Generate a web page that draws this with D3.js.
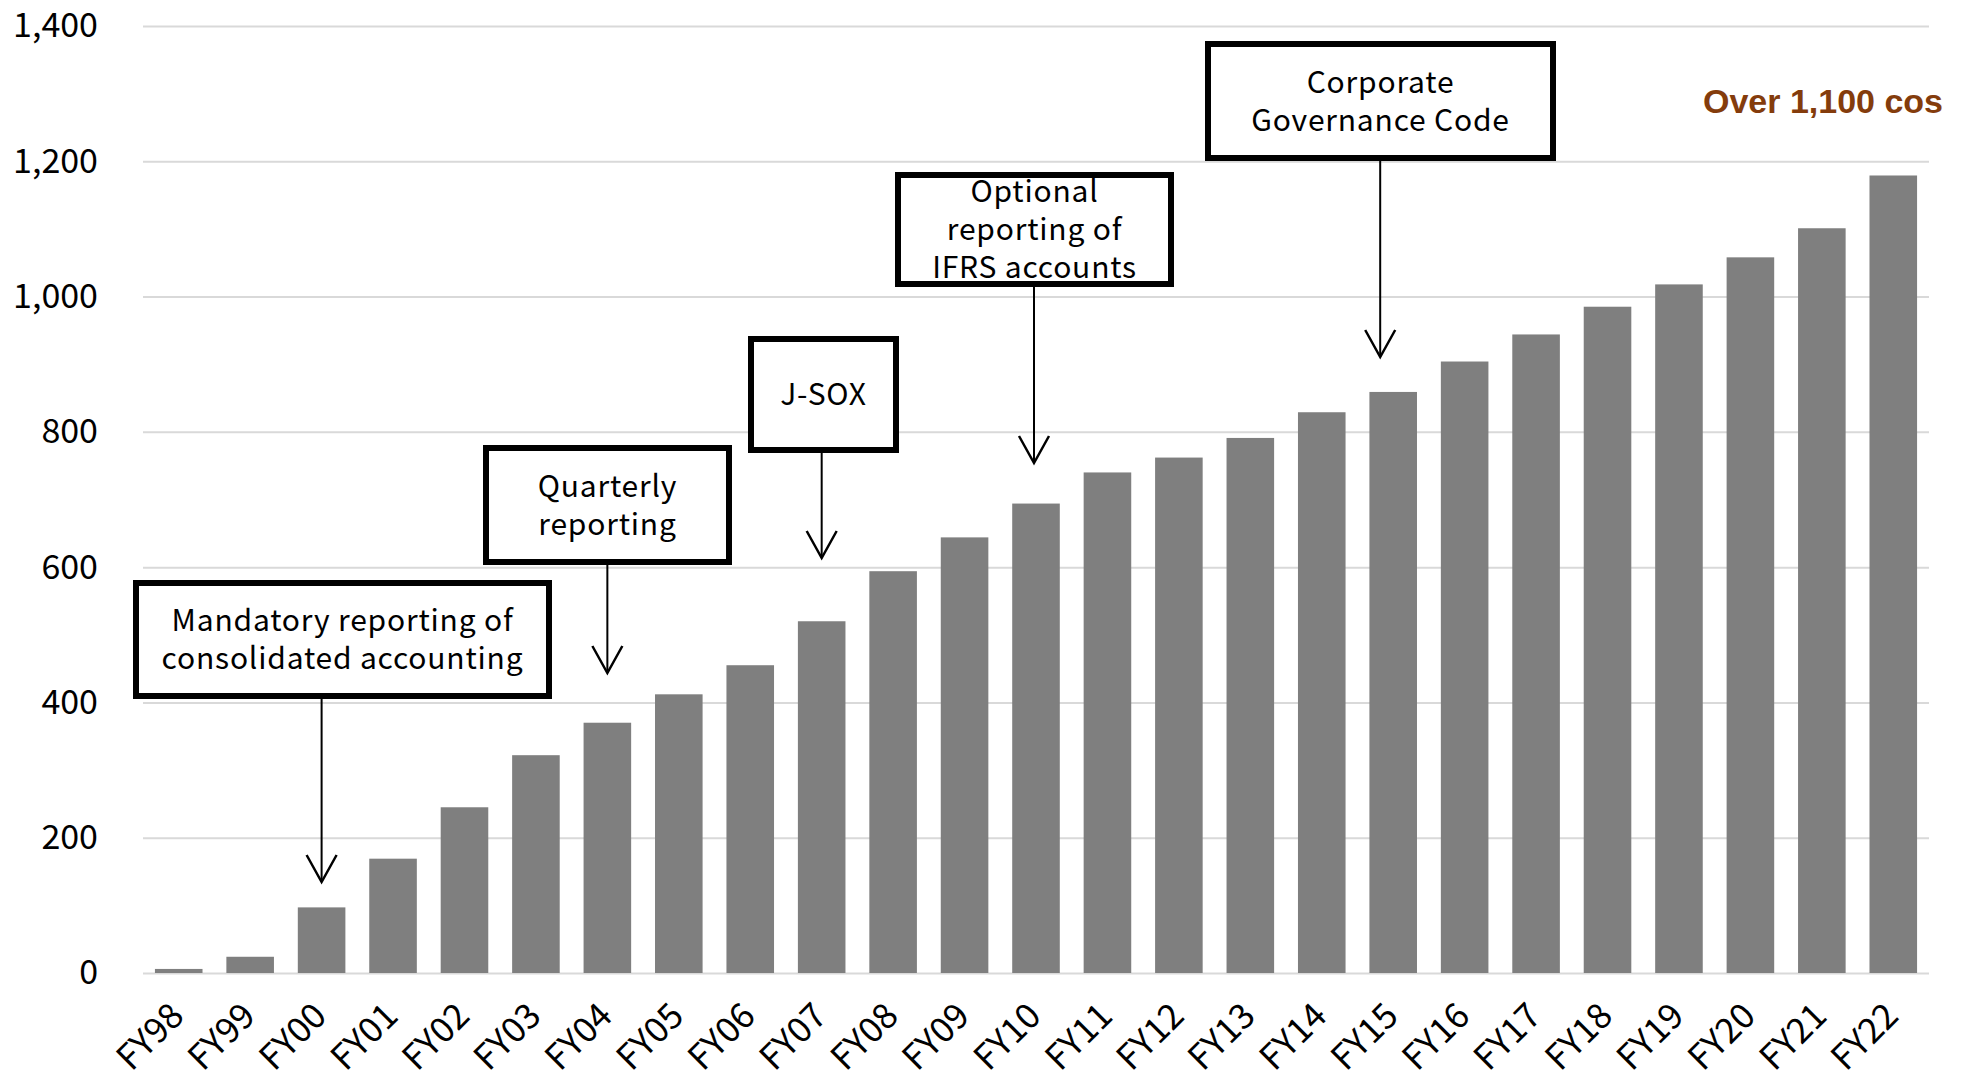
<!DOCTYPE html>
<html>
<head>
<meta charset="utf-8">
<script src="https://cdn.jsdelivr.net/npm/d3@7"></script>
<style>
    html, body { margin: 0; padding: 0; background: #fff; }
    svg { display: block; }
</style>
</head>
<body>
<svg id="chart"></svg>
<script>
// number of listed companies by fiscal year
const years = ["FY98", "FY99", "FY00", "FY01", "FY02", "FY03", "FY04", "FY05", "FY06", "FY07",
    "FY08", "FY09", "FY10", "FY11", "FY12", "FY13", "FY14", "FY15", "FY16", "FY17",
    "FY18", "FY19", "FY20", "FY21", "FY22"];
const companies = [6, 24, 97, 169, 245, 322, 370, 412, 455, 520,
    594, 644, 694, 740, 762, 791, 829, 859, 904, 944,
    985, 1018, 1058, 1101, 1179];
const yTicks = [0, 200, 400, 600, 800, 1000, 1200, 1400];

// regulatory events pointed at by arrows
const noteYears = ["FY00", "FY04", "FY07", "FY10", "FY15"];
const noteTexts = [
    ["Mandatory reporting of", "consolidated accounting"],
    ["Quarterly", "reporting"],
    ["J-SOX"],
    ["Optional", "reporting of", "IFRS accounts"],
    ["Corporate", "Governance Code"]
];
const calloutText = "Over 1,100 cos";

// box placement (outer edges, px) and arrow tips, kept apart from the data
const noteLayout = [
    { x0: 133, x1: 552, y0: 580, y1: 699, tip: 882, dx: 0 },
    { x0: 483, x1: 732, y0: 445, y1: 565, tip: 673, dx: 0 },
    { x0: 748, x1: 899, y0: 336, y1: 453, tip: 558, dx: 0 },
    { x0: 895, x1: 1174, y0: 172, y1: 287, tip: 463, dx: -2 },
    { x0: 1205, x1: 1556, y0: 41, y1: 161, tip: 357, dx: -13 }
];

const width = 1968;
const height = 1075;
const plotLeft = 143;
const plotRight = 1929;
const plotTop = 26;
const plotBottom = 973;
const mainFont = "'Noto Sans CJK JP', 'Noto Sans', sans-serif";

const svg = d3.select('#chart')
    .attr('width', width)
    .attr('height', height);

const x = d3.scaleBand()
    .domain(years)
    .range([plotLeft, plotRight])
    .paddingInner(0.334)
    .paddingOuter(0.167);

const y = d3.scaleLinear()
    .domain([0, 1400])
    .range([plotBottom, plotTop]);

// gridlines + y labels
const yAxis = svg.append("g")
    .attr("transform", `translate(${plotLeft},0)`)
    .call(d3.axisLeft(y)
        .tickValues(yTicks)
        .tickFormat(d3.format(","))
        .tickSize(-(plotRight - plotLeft))
        .tickPadding(45));
yAxis.select(".domain").remove();
yAxis.selectAll(".tick line")
    .attr("stroke", "#d9d9d9")
    .attr("stroke-width", 2);
yAxis.selectAll(".tick text")
    .attr("fill", "#000")
    .style("font-family", mainFont)
    .style("font-size", "34px");

// bars
svg.append("g")
    .selectAll("rect")
    .data(years)
    .join("rect")
    .attr("x", d => x(d))
    .attr("width", x.bandwidth())
    .attr("y", (d, i) => y(companies[i]))
    .attr("height", (d, i) => y(0) - y(companies[i]))
    .attr("fill", "#7f7f7f");

// x labels, rotated
const xAxis = svg.append("g")
    .attr("transform", `translate(0,${plotBottom})`)
    .call(d3.axisBottom(x).tickSize(0));
xAxis.select(".domain").remove();
xAxis.selectAll(".tick text")
    .attr("x", 0)
    .attr("y", 0)
    .attr("dy", 0)
    .attr("text-anchor", "end")
    .attr("transform", "translate(7,45) rotate(-45)")
    .attr("fill", "#000")
    .style("font-family", mainFont)
    .style("font-size", "35px");

// annotation boxes + arrows
const notes = svg.append("g");
noteYears.forEach((yr, i) => {
    const lay = noteLayout[i];
    const ax = x(yr) + x.bandwidth() / 2 + lay.dx;
    const g = notes.append("g");

    g.append("line")
        .attr("x1", ax).attr("x2", ax)
        .attr("y1", lay.y1).attr("y2", lay.tip)
        .attr("stroke", "#000")
        .attr("stroke-width", 2);
    g.append("path")
        .attr("d", `M${ax - 15},${lay.tip - 27}L${ax},${lay.tip}L${ax + 15},${lay.tip - 27}`)
        .attr("fill", "none")
        .attr("stroke", "#000")
        .attr("stroke-width", 2.5);

    g.append("rect")
        .attr("x", lay.x0 + 3)
        .attr("y", lay.y0 + 3)
        .attr("width", lay.x1 - lay.x0 - 6)
        .attr("height", lay.y1 - lay.y0 - 6)
        .attr("fill", "#fff")
        .attr("stroke", "#000")
        .attr("stroke-width", 6);

    const lines = noteTexts[i];
    const cy = (lay.y0 + lay.y1) / 2;
    const lh = 38;
    g.append("text")
        .attr("text-anchor", "middle")
        .style("font-family", mainFont)
        .style("font-size", "30px")
        .style("letter-spacing", "0.8px")
        .attr("fill", "#000")
        .selectAll("tspan")
        .data(lines)
        .join("tspan")
        .attr("x", (lay.x0 + lay.x1) / 2)
        .attr("y", (d, j) => cy + (j - (lines.length - 1) / 2) * lh)
        .attr("dy", "0.36em")
        .text(d => d);
});

svg.append("text")
    .attr("x", 1943)
    .attr("y", 113)
    .attr("text-anchor", "end")
    .attr("fill", "#843c0c")
    .style("font-family", "'Liberation Sans', Arial, sans-serif")
    .style("font-weight", "bold")
    .style("font-size", "34px")
    .text(calloutText);
</script>
</body>
</html>
